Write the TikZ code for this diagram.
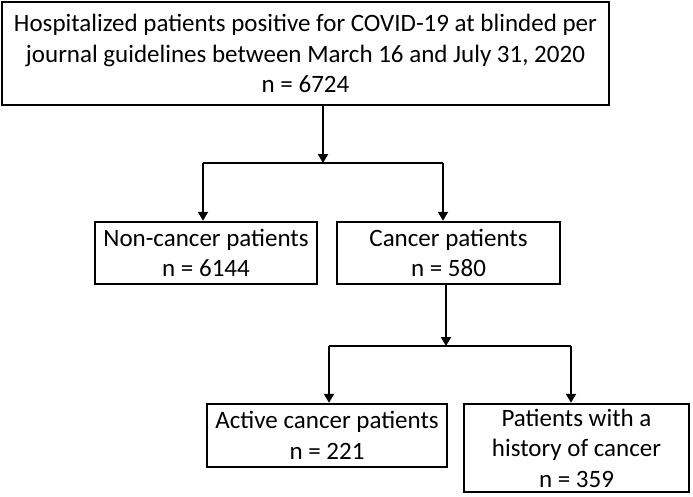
\documentclass[tikz,border=0pt]{standalone}
\usepackage{fontspec}
\setmainfont{Carlito}
\usetikzlibrary{arrows.meta}
\begin{document}
\begin{tikzpicture}[x=1pt,y=-1pt,
  box/.style={draw=black,line width=2.5pt,inner sep=0pt,align=center,
    font=\fontsize{25}{30.5}\selectfont},
  arr/.style={line width=2pt,-{Triangle[width=10pt,length=9pt]}},
  ln/.style={line width=2pt}]
\useasboundingbox[fill=white] (0,0) rectangle (693,496);
\node[box,minimum width=607pt,minimum height=103pt] (top) at (305.5,53.5)
  {Hospitalized patients positive for COVID-19 at blinded per\\journal guidelines between March 16 and July 31, 2020\\n = 6724};
\node[box,minimum width=222pt,minimum height=62pt] (non) at (206,253)
  {Non-cancer patients\\n = 6144};
\node[box,minimum width=223pt,minimum height=62pt] (can) at (448.5,253)
  {Cancer patients\\n = 580};
\node[box,minimum width=240pt,minimum height=63pt] (act) at (327,435.5)
  {Active cancer patients\\n = 221};
\node[box,minimum width=225pt,minimum height=88pt] (his) at (576.5,448)
  {Patients with a\\history of cancer\\n = 359};
\coordinate (j1) at (323,163);
\coordinate (j1l) at (203,163);
\coordinate (j1r) at (443,163);
\coordinate (j2) at (446,346);
\coordinate (j2l) at (329,346);
\coordinate (j2r) at (571,346);
\draw[arr] (top.south -| j1) -- (j1);
\draw[ln] (j1l) -- (j1r);
\draw[arr] (j1l) -- (non.north -| j1l);
\draw[arr] (j1r) -- (can.north -| j1r);
\draw[arr] (can.south -| j2) -- (j2);
\draw[ln] (j2l) -- (j2r);
\draw[arr] (j2l) -- (act.north -| j2l);
\draw[arr] (j2r) -- (his.north -| j2r);
\end{tikzpicture}
\end{document}
